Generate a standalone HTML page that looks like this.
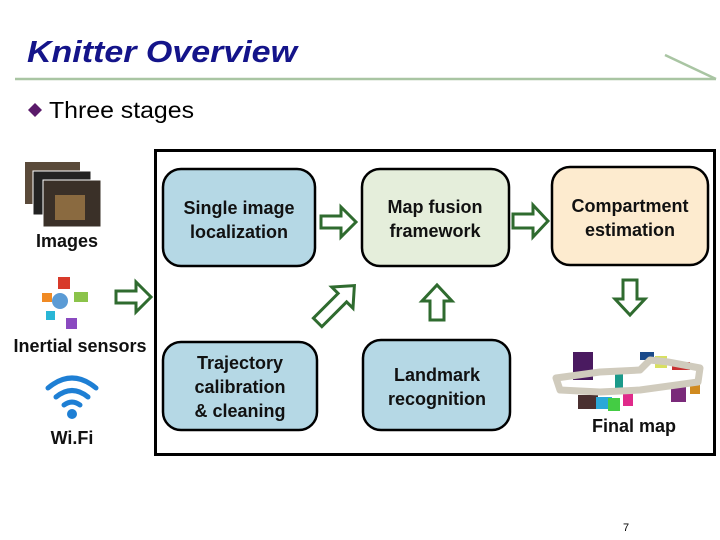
<!DOCTYPE html>
<html><head><style>body{margin:0;background:#fff}svg{display:block}text{font-family:"Liberation Sans",Arial,sans-serif}</style></head><body>
<svg width="720" height="540" viewBox="0 0 720 540">
<text x="27" y="62" font-size="31" font-weight="bold" font-style="italic" fill="#14148a" textLength="270" lengthAdjust="spacingAndGlyphs">Knitter Overview</text>
<line x1="15" y1="79" x2="716" y2="79" stroke="#a9c5a3" stroke-width="2.5"/>
<line x1="665" y1="55" x2="716" y2="79" stroke="#a9c5a3" stroke-width="2.5"/>
<path d="M35 103 L42 110 L35 117 L28 110Z" fill="#5a1a6a"/>
<text x="49" y="118" font-size="23" fill="#000" textLength="145" lengthAdjust="spacingAndGlyphs">Three stages</text>
<rect x="155.5" y="150.5" width="559" height="304" fill="#fff" stroke="#000" stroke-width="3"/>
<g stroke="#000" stroke-width="2.5">
<rect x="163" y="169" width="152" height="97" rx="18" fill="#b5d8e5"/>
<rect x="362" y="169" width="147" height="97" rx="18" fill="#e5eedb"/>
<rect x="552" y="167" width="156" height="98" rx="18" fill="#fdebcf"/>
<rect x="163" y="342" width="154" height="88" rx="18" fill="#b5d8e5"/>
<rect x="363" y="340" width="147" height="90" rx="18" fill="#b5d8e5"/>
</g>
<g font-size="18" font-weight="bold" text-anchor="middle" fill="#111">
<text x="239" y="214">Single image</text><text x="239" y="238">localization</text>
<text x="435" y="213">Map fusion</text><text x="435" y="237">framework</text>
<text x="630" y="212">Compartment</text><text x="630" y="236">estimation</text>
<text x="240" y="369">Trajectory</text><text x="240" y="393">calibration</text><text x="240" y="417">&amp; cleaning</text>
<text x="437" y="381">Landmark</text><text x="437" y="405">recognition</text>
<text x="634" y="432">Final map</text>
<text x="67" y="247">Images</text>
<text x="80" y="352">Inertial sensors</text>
<text x="72" y="444">Wi.Fi</text>
</g>
<g fill="#fff" stroke="#2f6b2f" stroke-width="3" stroke-linejoin="miter">
<path d="M321 216 H341 V207 L356 222 L341 237 V228 H321Z"/>
<path d="M513 214 H533 V205 L548 221 L533 237 V228 H513Z"/>
<path d="M116 291 H136 V282 L151 297 L136 312 V303 H116Z"/>
<path transform="rotate(-45 336 304)" d="M310 298 H345 V289 L362 304 L345 319 V310 H310Z"/>
<path d="M430 320 V301 H422 L437 285 L452 301 H444 V320Z"/>
<path d="M623 280 V299 H615 L630 315 L645 299 H637 V280Z"/>
</g>
<!-- images -->
<rect x="25" y="162" width="55" height="42" fill="#5a4a3a"/>
<rect x="33" y="171" width="58" height="44" fill="#222" stroke="#fff"/>
<rect x="43" y="180" width="58" height="47" fill="#3a3028" stroke="#fff"/>
<rect x="55" y="195" width="30" height="25" fill="#8a6a40"/>
<!-- sensors -->
<circle cx="60" cy="301" r="8" fill="#5b9bd5"/>
<rect x="58" y="277" width="12" height="12" fill="#d83a2a"/>
<rect x="74" y="292" width="14" height="10" fill="#8bc34a"/>
<rect x="42" y="293" width="10" height="9" fill="#f08a24"/>
<rect x="46" y="311" width="9" height="9" fill="#29b6d6"/>
<rect x="66" y="318" width="11" height="11" fill="#8a4ac0"/>
<!-- wifi -->
<g fill="none" stroke="#1e7fd4" stroke-width="5" stroke-linecap="round">
<path d="M48 388 Q72 368 96 388"/><path d="M56 397 Q72 384 88 397"/><path d="M64 405 Q72 399 80 405"/>
</g>
<circle cx="72" cy="414" r="5" fill="#1e7fd4"/>
<!-- map -->
<g>
<rect x="573" y="352" width="20" height="28" fill="#4a1a60"/>
<rect x="578" y="395" width="20" height="14" fill="#4a3030"/>
<rect x="596" y="397" width="16" height="12" fill="#2aa8d8"/>
<rect x="608" y="398" width="12" height="13" fill="#44cc44"/>
<rect x="615" y="368" width="8" height="20" fill="#1a9a8a"/>
<rect x="623" y="393" width="10" height="13" fill="#e02a8a"/>
<rect x="640" y="352" width="14" height="8" fill="#1a4a8a"/>
<rect x="655" y="356" width="12" height="12" fill="#d8e060"/>
<rect x="671" y="386" width="15" height="16" fill="#7a2a7a"/>
<rect x="690" y="385" width="10" height="9" fill="#d08a20"/>
<rect x="672" y="362" width="18" height="8" fill="#c83030"/>
<path d="M556 378 L600 372 L640 370 L650 360 L668 362 L700 368 L698 382 L640 390 L600 392 L560 390Z" fill="none" stroke="#d0cbbd" stroke-width="7" stroke-linejoin="round"/>
</g>
<text x="626" y="531" font-size="11" text-anchor="middle" fill="#000">7</text>
</svg>
</body></html>
